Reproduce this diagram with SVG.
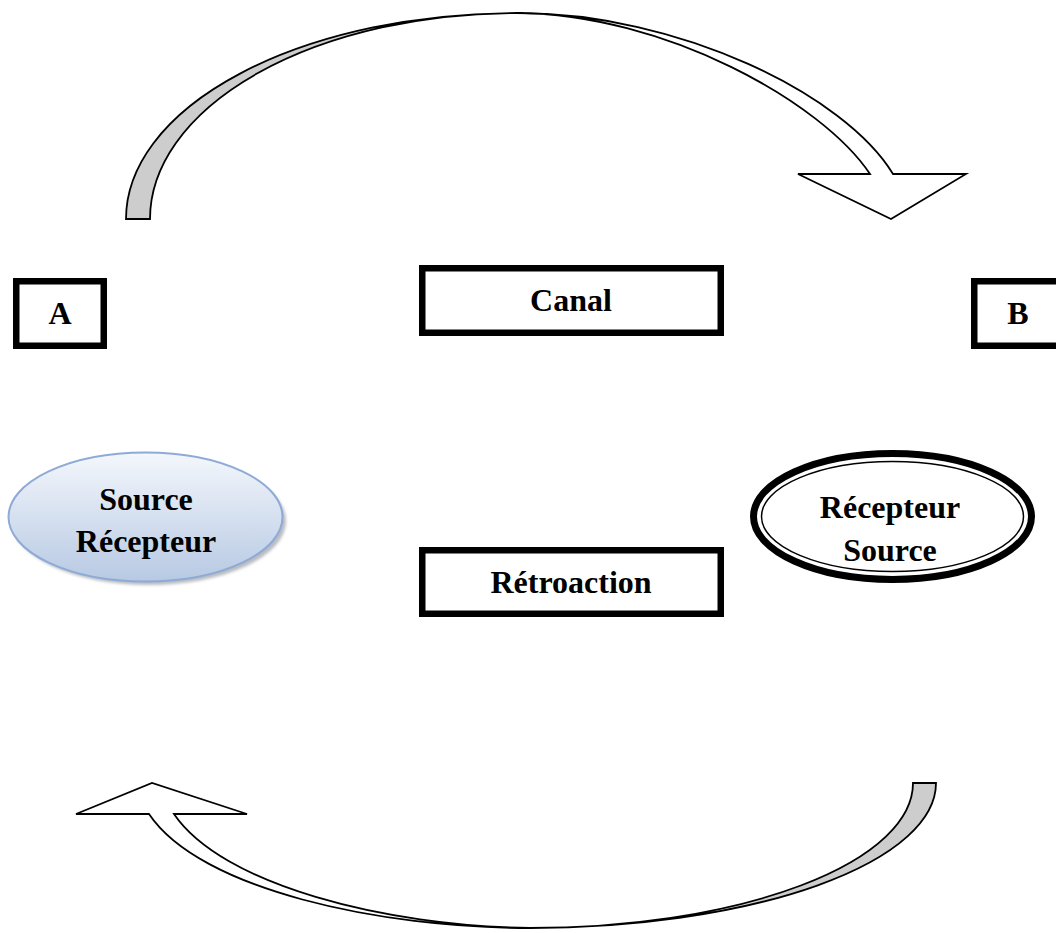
<svg xmlns="http://www.w3.org/2000/svg" width="1056" height="933" viewBox="0 0 1056 933">
  <style>
    .lbl { font-family: "Liberation Serif", "Times New Roman", serif; font-weight: bold; font-size: 32px; fill: #000; text-anchor: middle; }
    .box { fill: #fff; stroke: #000; stroke-width: 6.5; }
    .band { stroke: #000; stroke-width: 1.8; stroke-linejoin: miter; }
    .shade { fill: #cdcdcd; }
    .face { fill: #fff; }
  </style>
  <defs>
    <linearGradient id="blueFill" x1="0" y1="0" x2="0" y2="1">
      <stop offset="0" stop-color="#f4f7fc"/>
      <stop offset="1" stop-color="#b7c9e3"/>
    </linearGradient>
    <filter id="blur" x="-10%" y="-10%" width="120%" height="130%">
      <feGaussianBlur stdDeviation="1.5"/>
    </filter>
  </defs>

  <g id="connectors">
    <g id="arrow-top">
      <path class="band shade" d="M126,219 A391,206 0 0 1 517,13 A367,206 0 0 0 150,219 Z"/>
      <path class="band face" d="M517,13 C680,13 845,95 893,174 L966,174 L891,219 L798,174 L870,174 C822,102 665,14 517,13 Z"/>
    </g>
    <g id="arrow-bottom">
      <path class="band shade" d="M936,783 A406,145 0 0 1 530,928 A383,145 0 0 0 913,783 Z"/>
      <path class="band face" d="M530,928 C380,928 200,890 149,814 L76,814 L152,783 L247,814 L174,814 C222,885 385,926 530,928 Z"/>
    </g>
  </g>

  <g id="node-A">
    <rect class="box" x="16.25" y="281.25" width="87.5" height="64.5"/>
    <text class="lbl" x="60" y="324">A</text>
  </g>

  <g id="node-B">
    <rect class="box" x="974.25" y="281.25" width="95" height="64.5"/>
    <text class="lbl" x="1018" y="324">B</text>
  </g>

  <g id="node-canal">
    <rect class="box" x="422.25" y="268.25" width="298.5" height="64.5"/>
    <text class="lbl" x="571" y="311">Canal</text>
  </g>

  <g id="node-retroaction">
    <rect class="box" x="422.25" y="550.25" width="298.5" height="63.5"/>
    <text class="lbl" x="571" y="593">Rétroaction</text>
  </g>

  <g id="node-source-recepteur">
    <ellipse cx="149" cy="521" rx="137" ry="64" fill="#8a8f99" opacity="0.6" filter="url(#blur)"/>
    <ellipse cx="145.5" cy="517" rx="137" ry="64.5" fill="url(#blueFill)" stroke="#8eaad6" stroke-width="2"/>
    <text class="lbl" x="146" y="510">Source</text>
    <text class="lbl" x="146" y="552">Récepteur</text>
  </g>

  <g id="node-recepteur-source">
    <ellipse cx="892.5" cy="516.5" rx="139" ry="63" fill="#fff" stroke="#000" stroke-width="7"/>
    <ellipse cx="892.5" cy="516.5" rx="131" ry="55" fill="none" stroke="#000" stroke-width="1.5"/>
    <text class="lbl" x="890" y="518">Récepteur</text>
    <text class="lbl" x="890" y="561">Source</text>
  </g>
</svg>
